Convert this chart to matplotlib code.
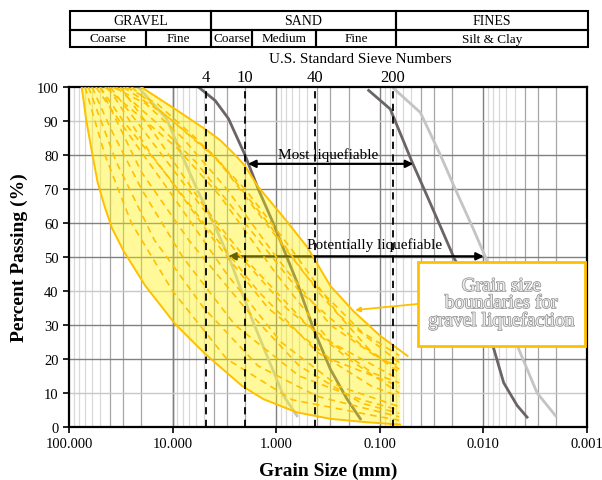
import matplotlib
matplotlib.use('Agg')
import matplotlib.pyplot as plt
import matplotlib.patheffects as pe
from matplotlib.patches import Rectangle
from matplotlib.ticker import FixedLocator, NullLocator

plt.rcParams['font.family'] = ['Liberation Serif', 'DejaVu Serif']

# sieve openings (mm) and numbers
sieve_mm = [4.75, 2.0, 0.425, 0.075]
sieve_no = ['4', '10', '40', '200']

# measured gradation curves (grain size mm, percent passing)
left_dark_d = [5.64, 3.88, 2.89, 2.0, 1.49, 1.07, 0.85, 0.63, 0.436, 0.30, 0.207, 0.154]
left_dark_p = [100, 96, 90.7, 80, 70, 60, 52.4, 42.6, 28.8, 17, 8.2, 2.4]
left_light_d = [21.5, 11.4, 8.15, 5.83, 4.03, 2.78, 1.78, 1.23, 0.85, 0.63]
left_light_p = [100, 90.6, 80, 70, 60, 49, 33, 21, 9.2, 3.3]
right_dark_d = [0.128, 0.0792, 0.0489, 0.035, 0.026, 0.019, 0.0107, 0.00794, 0.00637, 0.00472, 0.00379]
right_dark_p = [99, 93.5, 78, 68, 59, 49.4, 35.7, 23, 13, 6.3, 2.9]
right_light_d = [0.0736, 0.0406, 0.026, 0.0187, 0.0124, 0.00957, 0.00472, 0.00303, 0.00201]
right_light_p = [99.6, 92.5, 80, 70, 58, 50, 24, 10, 3.3]

# gravel liquefaction boundaries
upper_d = [20.1, 9.46, 4.85, 3.48, 2.6, 2.0, 1.49, 0.855, 0.501, 0.44, 0.30, 0.18, 0.099, 0.054]
upper_p = [100, 93.5, 87.6, 84.4, 80.6, 76.8, 70.6, 61.8, 52.9, 50, 41.5, 34.1, 26.8, 20.9]
lower_d = [75.4, 68.0, 60.4, 53.0, 45.5, 38.5, 29.9, 18.4, 9.46, 4.85, 2.14, 1.33, 0.631, 0.30, 0.133, 0.0634]
lower_p = [100, 90, 81.3, 72, 65, 58.5, 51.9, 41.6, 30.3, 21.5, 12.1, 8.2, 4.3, 2.4, 1.4, 0.7]

# gravel gradations inside the band (dashed)
gravels = [
    ([70, 45, 25, 10, 3, 0.7, 0.1, 0.065], [100, 80, 60, 40, 20, 8, 3, 2]),
    ([60, 40, 20, 8, 2.5, 0.6, 0.15, 0.065], [100, 88, 70, 50, 30, 15, 8, 5]),
    ([50, 30, 12, 4, 1.2, 0.3, 0.065], [100, 90, 75, 55, 35, 20, 12]),
    ([40, 20, 8, 2.5, 0.8, 0.2, 0.065], [100, 88, 72, 52, 35, 20, 10]),
    ([35, 15, 6, 2, 0.6, 0.15, 0.065], [100, 90, 78, 60, 40, 24, 17]),
    ([30, 12, 4, 1.5, 0.5, 0.15, 0.065], [100, 92, 80, 63, 44, 28, 21]),
    ([25, 10, 3.5, 1.2, 0.4, 0.12, 0.065], [100, 90, 78, 60, 40, 22, 16]),
    ([55, 25, 10, 3, 0.9, 0.25, 0.065], [100, 85, 68, 45, 25, 12, 6]),
    ([45, 22, 9, 3.5, 1, 0.3, 0.065], [100, 92, 82, 68, 45, 25, 14]),
    ([65, 35, 15, 5, 1.5, 0.4, 0.065], [100, 78, 55, 35, 18, 9, 3]),
    ([38, 18, 8, 3, 1, 0.3, 0.1, 0.065], [100, 95, 85, 70, 50, 30, 20, 18]),
    ([28, 14, 6, 2, 0.7, 0.25, 0.065], [100, 95, 85, 70, 52, 33, 19]),
    ([50, 20, 7, 2, 0.6, 0.15, 0.065], [100, 75, 55, 35, 18, 7, 4]),
    ([42, 16, 5, 1.5, 0.4, 0.12, 0.065], [100, 80, 60, 40, 22, 12, 9]),
    ([32, 14, 5, 1.8, 0.5, 0.12, 0.065], [100, 85, 65, 48, 30, 16, 13]),
]

fig = plt.figure(figsize=(6.02, 4.81), dpi=100)
ax = fig.add_axes([69/602, 1-428/481, 518/602, 340/481])
ax.set_xscale('log')
ax.set_xlim(100, 0.001)
ax.set_ylim(0, 100)

# grid
for dec in [0.001, 0.01, 0.1, 1, 10]:
    for m in range(2, 10):
        c = '#a6a6a6' if m <= 4 else '#d9d9d9'
        ax.axvline(dec*m, color=c, lw=0.9, zorder=0)
    if dec > 0.001:
        ax.axvline(dec, color='#7f7f7f', lw=1.0, zorder=0)
ax.axvline(10, color='#7f7f7f', lw=1.0, zorder=0)
for p in range(10, 100, 10):
    c = '#c8c8c8' if p in (10, 40, 90) else '#808080'
    ax.axhline(p, color=c, lw=1.0, zorder=0)

# gradation curves
ax.plot(left_light_d, left_light_p, color='#c4c4c4', lw=2, zorder=2)
ax.plot(right_light_d, right_light_p, color='#c4c4c4', lw=2, zorder=2)
ax.plot(left_dark_d, left_dark_p, color='#6b6464', lw=2, zorder=2)
ax.plot(right_dark_d, right_dark_p, color='#6b6464', lw=2, zorder=2)

# liquefiable ranges
ax.annotate('', xy=(1.87, 77.4), xytext=(0.0475, 77.4),
            arrowprops=dict(arrowstyle='<|-|>', color='black', lw=1.6, mutation_scale=11, shrinkA=0, shrinkB=0), zorder=3)
ax.text(0.315, 80.3, 'Most liquefiable', fontsize=11, ha='center', va='center', zorder=6)
ax.annotate('', xy=(2.91, 50.2), xytext=(0.0099, 50.2),
            arrowprops=dict(arrowstyle='<|-|>', color='black', lw=1.6, mutation_scale=11, shrinkA=0, shrinkB=0), zorder=3)
ax.text(0.112, 53.8, 'Potentially liquefiable', fontsize=11, ha='center', va='center', zorder=6)

# band
band_d = upper_d[:-1] + [0.0634] + lower_d[::-1]
band_p = upper_p[:-1] + [21.5] + lower_p[::-1]
ax.fill(band_d, band_p, color='#fff200', alpha=0.4, lw=0, zorder=4)
for gd, gp in gravels:
    ax.plot(gd, gp, color='#ffc000', lw=1.2, ls=(0, (4, 3)), zorder=5)
ax.plot(upper_d, upper_p, color='#ffc000', lw=1.4, zorder=5)
ax.plot(lower_d, lower_p, color='#ffc000', lw=1.4, zorder=5)

# sieve lines
for s in sieve_mm:
    ax.axvline(s, color='black', lw=1.3, ls=(0, (4, 3)), zorder=6)
for s, n in zip(sieve_mm, sieve_no):
    ax.text(s, 1.03, n, transform=ax.get_xaxis_transform(), ha='center', va='center', fontsize=12)
ax.text(0.562, 1.083, 'U.S. Standard Sieve Numbers', transform=ax.transAxes, ha='center', va='center', fontsize=11)

# note box
ax.add_patch(Rectangle((0.674, 0.238), 0.322, 0.247, transform=ax.transAxes,
                       facecolor='white', edgecolor='#ffc000', lw=2, zorder=8))
ax.text(0.835, 0.362, 'Grain size\nboundaries for\ngravel liquefaction', transform=ax.transAxes,
        ha='center', va='center', fontsize=14, color='#ececec', linespacing=1.0, zorder=9,
        path_effects=[pe.withStroke(linewidth=1.0, foreground='#8c8c8c')])
ax.annotate('', xy=(0.173, 34.4), xytext=(0.674, 0.362), textcoords='axes fraction',
            arrowprops=dict(arrowstyle='-|>', color='#ffc000', lw=1.3, mutation_scale=7, shrinkA=0, shrinkB=0), zorder=7)

# axes styling
xt = [100, 10, 1, 0.1, 0.01, 0.001]
ax.xaxis.set_major_locator(FixedLocator(xt))
ax.xaxis.set_minor_locator(NullLocator())
ax.set_xticklabels(['%.3f' % v for v in xt])
ax.set_yticks(range(0, 101, 10))
ax.tick_params(direction='out', length=4, width=1.2, labelsize=10.5)
for sp in ax.spines.values():
    sp.set_linewidth(1.6)
ax.set_xlabel('Grain Size (mm)', fontsize=14, fontweight='bold', labelpad=8)
ax.set_ylabel('Percent Passing (%)', fontsize=14, fontweight='bold', labelpad=6)

# soil classification table
tab = fig.add_axes([70/602, 1-48/481, 518/602, 36/481])
tab.set_xlim(70, 588)
tab.set_ylim(48, 12)
tab.axis('off')
top_cells = [(70, 211, 'GRAVEL'), (211, 396, 'SAND'), (396, 588, 'FINES')]
bot_cells = [(70, 146, 'Coarse'), (146, 211, 'Fine'), (211, 252, 'Coarse'),
             (252, 316, 'Medium'), (316, 396, 'Fine'), (396, 588, 'Silt & Clay')]
for x0, x1, t in top_cells:
    tab.add_patch(Rectangle((x0, 12), x1-x0, 19, fill=False, lw=1.5, clip_on=False))
    tab.text((x0+x1)/2, 21.5, t, ha='center', va='center', fontsize=10)
for x0, x1, t in bot_cells:
    tab.add_patch(Rectangle((x0, 31), x1-x0, 17, fill=False, lw=1.5, clip_on=False))
    tab.text((x0+x1)/2, 39.5, t, ha='center', va='center', fontsize=9.5)

fig.savefig('out.png', dpi=100)
